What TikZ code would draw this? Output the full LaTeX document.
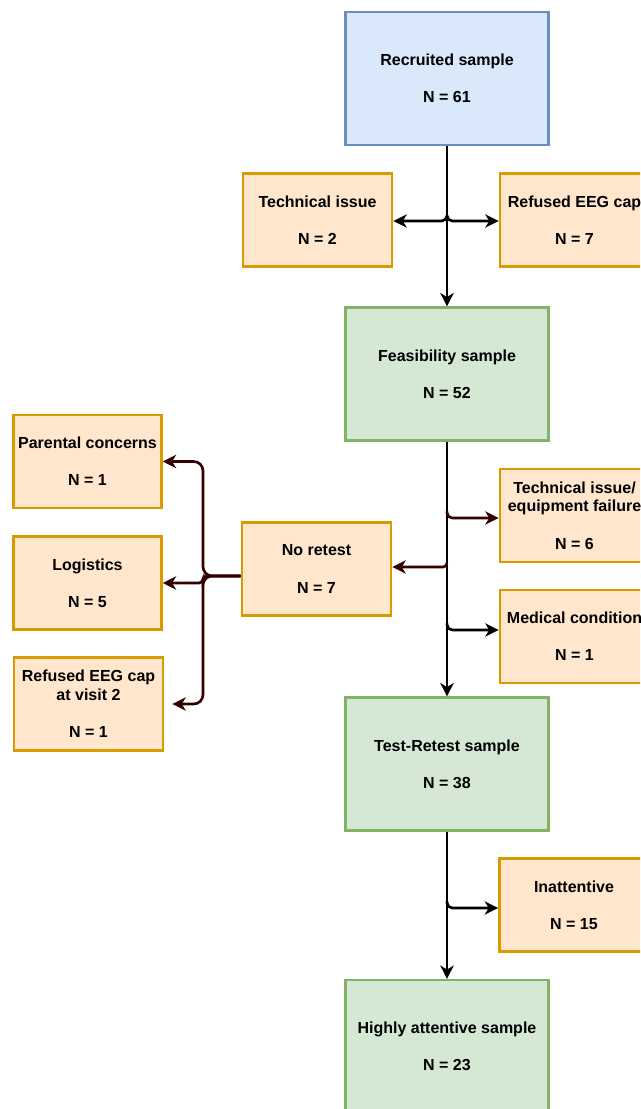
\documentclass[tikz,border=0pt]{standalone}
\usepackage{fontspec}
\setmainfont{Liberation Sans}
\usetikzlibrary{arrows.meta}
\definecolor{bluefill}{HTML}{DAE8FC}
\definecolor{bluedraw}{HTML}{6C8EBF}
\definecolor{greenfill}{HTML}{D5E8D4}
\definecolor{greendraw}{HTML}{82B366}
\definecolor{orangefill}{HTML}{FFE6CC}
\definecolor{orangedraw}{HTML}{D79B00}
\definecolor{darkred}{HTML}{330000}
\tikzset{
  box/.style={draw, line width=1.9pt, align=center, inner sep=0pt,
    font=\bfseries\fontsize{12}{14}\selectfont},
  mainbox/.style={box, fill=greenfill, draw=greendraw, minimum width=152pt, minimum height=99.5pt},
  topbox/.style={mainbox, fill=bluefill, draw=bluedraw},
  exbox/.style={box, fill=orangefill, draw=orangedraw, minimum width=112pt, minimum height=69.5pt},
  arr/.style={line width=2pt, -{Stealth[length=10pt,width=10pt,inset=3pt]}},
  arrk/.style={arr, draw=black},
  arrr/.style={arr, draw=darkred, -{Stealth[length=10pt,width=10pt,inset=3pt,fill=darkred]}},
}
\begin{document}
\begin{tikzpicture}[x=0.75pt,y=-0.75pt]
\useasboundingbox (0,0) rectangle (640,1109);
\clip (0,0) rectangle (640,1109);
\fill[white] (0,0) rectangle (640,1109);

% main column
\node[topbox]  (rec)  at (447,78.5) {Recruited sample\\[14pt]N = 61};
\node[mainbox] (feas) at (447,374)  {Feasibility sample\\[14pt]N = 52};
\node[mainbox] (tr)   at (447,764)  {Test-Retest sample\\[14pt]N = 38};
\node[mainbox] (high) at (447,1046.5) {Highly attentive sample\\[14pt]N = 23};

% exclusion boxes
\node[exbox] (tech1) at (317.5,220) {Technical issue\\[14pt]N = 2};
\node[exbox] (ref1)  at (574.5,220) {Refused EEG cap\\[14pt]N = 7};
\node[exbox] (techeq) at (574.5,515.5) {Technical issue/\\equipment failure\\[14pt]N = 6};
\node[exbox] (med)   at (574.5,636.5) {Medical condition\\[14pt]N = 1};
\node[exbox] (inatt) at (574,905) {Inattentive\\[14pt]N = 15};
\node[exbox] (noret) at (316.5,569) {No retest\\[14pt]N = 7};
\node[exbox, minimum width=111pt] (par)  at (87.5,461.5) {Parental concerns\\[14pt]N = 1};
\node[exbox, minimum width=111pt] (logi) at (87.5,583) {Logistics\\[14pt]N = 5};
\node[exbox, minimum width=112pt] (vis2) at (88.5,704) {Refused EEG cap\\at visit 2\\[14pt]N = 1};

% junction coordinates
\coordinate (j1) at (447,221);
\coordinate (j2) at (447,518);
\coordinate (j3) at (447,567);
\coordinate (j4) at (447,630);
\coordinate (j5) at (447,908);
\coordinate (b0) at (203,576);

% trunk arrows
\draw[arrk] (rec.south) -- (feas.north);
\draw[arrk] (feas.south) -- (tr.north);
\draw[arrk] (tr.south) -- (high.north);

% branches from recruited
\draw[arrk, rounded corners=4pt] ([yshift=4pt]j1) -- (j1) -- (tech1.east |- j1);
\draw[arrk, rounded corners=4pt] ([yshift=4pt]j1) -- (j1) -- (ref1.west |- j1);

% branches from feasibility
\draw[arrr, rounded corners=4pt] ([yshift=5pt]j2) -- (j2) -- (techeq.west |- j2);
\draw[arrr, rounded corners=3pt] ([yshift=3pt]j3) -- (j3) -- (noret.east |- j3);
\draw[arrk, rounded corners=4pt] ([yshift=5pt]j4) -- (j4) -- (med.west |- j4);
\draw[arrk, rounded corners=4pt] ([yshift=5pt]j5) -- (j5) -- (inatt.west |- j5);

% no retest bracket
\draw[arrr, rounded corners=7pt] (noret.west |- b0) -- (b0) -- (b0 |- par.east) -- (par.east);
\draw[arrr, rounded corners=3pt] (noret.west |- b0) -- (b0) -- (b0 |- logi.east) -- (logi.east);
\draw[arrr, rounded corners=7pt] (noret.west |- b0) -- (b0) -- (b0 |- vis2.east) -- ([xshift=6pt]vis2.east);
\end{tikzpicture}
\end{document}
